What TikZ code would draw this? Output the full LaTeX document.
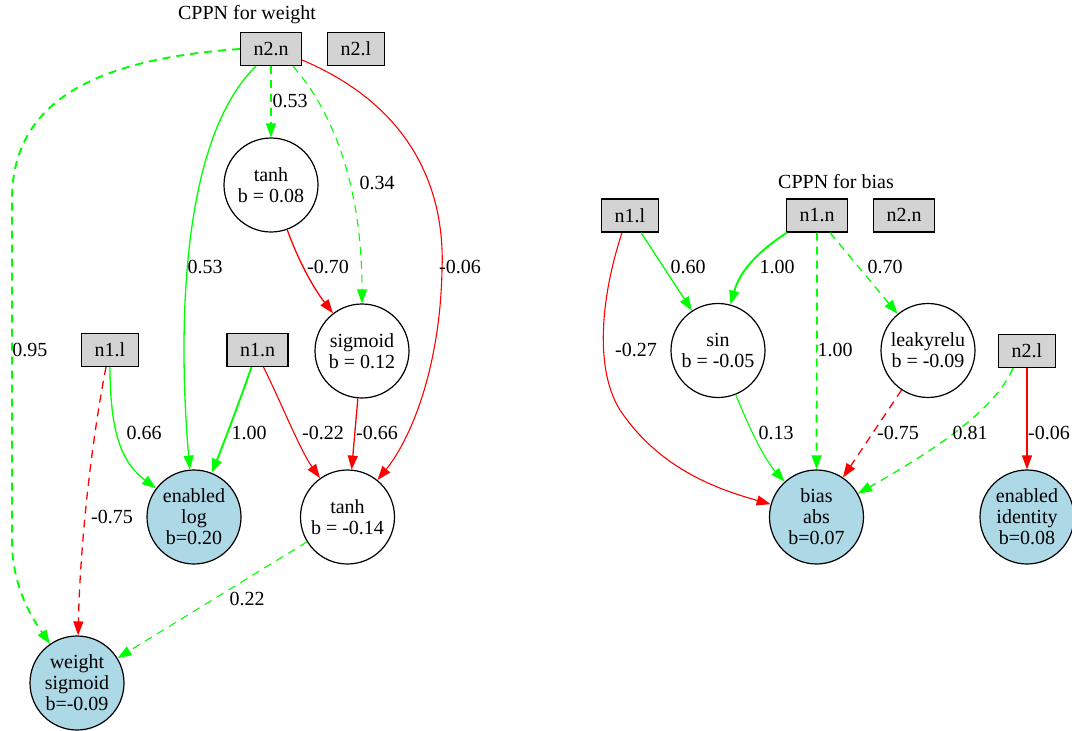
\documentclass[tikz,border=0pt]{standalone}
\usepackage{fontspec}
\setmainfont{Liberation Serif}
\usetikzlibrary{arrows.meta}
\definecolor{wpos}{HTML}{00FF00}
\definecolor{wneg}{HTML}{FF0000}
\definecolor{inbox}{HTML}{D3D3D3}
\definecolor{outfill}{HTML}{ADD8E6}
\begin{document}
\begin{tikzpicture}[x=1pt,y=-1pt,
  font=\fontsize{20}{21}\selectfont,
  inp/.style={draw=black, line width=1.2pt, fill=inbox, rectangle, inner xsep=13pt, inner ysep=0pt, minimum height=33pt},
  hid/.style={draw=black, line width=1.2pt, circle, minimum size=94pt, inner sep=0pt, align=center},
  outn/.style={hid, fill=outfill},
  lbl/.style={inner sep=0pt},
  ttl/.style={inner sep=0pt},
  conn/.style={-{Triangle[length=14pt,width=10pt]}},
  pe/.style={conn, color=wpos},
  ne/.style={conn, color=wneg},
  dsh/.style={dash pattern=on 8pt off 6pt},
  w1/.style={line width=1.1pt},
  w2/.style={line width=1.3pt},
  w3/.style={line width=1.9pt}
]
\useasboundingbox (0,0) rectangle (1072,731);

% ---------- CPPN for weight ----------
\node[ttl] (tw) at (247,15) {CPPN for weight};
\node[inp] (wn2n) at (271,49) {n2.n};
\node[inp] (wn2l) at (356,49) {n2.l};
\node[hid] (wta) at (271,185) {tanh\\b = 0.08};
\node[hid] (wsg) at (362,351) {sigmoid\\b = 0.12};
\node[inp] (wn1l) at (110,350) {n1.l};
\node[inp] (wn1n) at (257.5,350) {n1.n};
\node[outn] (wlog) at (194,517) {enabled\\log\\b=0.20};
\node[hid] (wtb) at (347.5,517) {tanh\\b = -0.14};
\node[outn] (wout) at (77,683) {weight\\sigmoid\\b=-0.09};

\draw[pe,dsh,w3] (wn2n.west) .. controls (80,60) and (12,110) .. (12,200)
  -- (12,540) .. controls (12,585) and (30,615) .. (wout);
\draw[pe,dsh,w2] (wn2n.south) -- (wta);
\draw[pe,w2] ([xshift=-15pt]wn2n.south) .. controls (170,150) and (182,380) .. (wlog);
\draw[pe,dsh,w1] ([xshift=22pt]wn2n.south) .. controls (340,120) and (362,200) .. (wsg);
\draw[ne,w1] ([yshift=-11pt]wn2n.east) .. controls (420,110) and (445,200) .. (442,270)
  .. controls (440,370) and (410,440) .. (wtb);
\draw[ne,w2] (wta) .. controls (300,265) and (315,290) .. (wsg);
\draw[pe,w2] (wn1l.south) .. controls (110,440) and (125,465) .. (wlog);
\draw[ne,dsh,w2] ([xshift=-4pt]wn1l.south) .. controls (90,450) and (80,550) .. (wout);
\draw[pe,w3] ([xshift=-6pt]wn1n.south) .. controls (240,400) and (225,440) .. (wlog);
\draw[ne,w1] ([xshift=6pt]wn1n.south) .. controls (280,400) and (300,450) .. (wtb);
\draw[ne,w2] (wsg) -- (wtb);
\draw[pe,dsh,w1] (wtb) -- (wout);

\node[lbl] (lw1) at (30,350) {0.95};
\node[lbl] (lw2) at (290,101) {0.53};
\node[lbl] (lw3) at (205,267) {0.53};
\node[lbl] (lw4) at (377,183) {0.34};
\node[lbl] (lw5) at (460,267) {-0.06};
\node[lbl] (lw6) at (328,267) {-0.70};
\node[lbl] (lw7) at (144,433) {0.66};
\node[lbl] (lw8) at (112,517) {-0.75};
\node[lbl] (lw9) at (249,433) {1.00};
\node[lbl] (lw10) at (323,433) {-0.22};
\node[lbl] (lw11) at (377,433) {-0.66};
\node[lbl] (lw12) at (247,599) {0.22};

% ---------- CPPN for bias ----------
\node[ttl] (tb) at (836,182) {CPPN for bias};
\node[inp] (bn1l) at (630,215.5) {n1.l};
\node[inp] (bn1n) at (817,215.5) {n1.n};
\node[inp] (bn2n) at (904,215.5) {n2.n};
\node[hid] (bsin) at (718,350.5) {sin\\b = -0.05};
\node[hid] (blr) at (928,350.5) {leakyrelu\\b = -0.09};
\node[inp] (bn2l) at (1027,351) {n2.l};
\node[outn] (bout) at (816.5,517) {bias\\abs\\b=0.07};
\node[outn] (bid) at (1027,517) {enabled\\identity\\b=0.08};

\draw[ne,w1] ([xshift=-8pt]bn1l.south) .. controls (600,300) and (595,370) .. (620,410)
  .. controls (660,470) and (720,490) .. (bout);
\draw[pe,w2] ([xshift=11pt]bn1l.south) -- (bsin);
\draw[pe,w3] ([xshift=-30pt]bn1n.south) .. controls (760,250) and (740,270) .. (bsin);
\draw[pe,dsh,w3] (bn1n.south) -- (bout);
\draw[pe,dsh,w2] ([xshift=13pt]bn1n.south) -- (blr);
\draw[pe,w1] (bsin) .. controls (750,430) and (765,460) .. (bout);
\draw[ne,dsh,w2] (blr) -- (bout);
\draw[pe,dsh,w2] ([xshift=-14pt]bn2l.south) .. controls (995,410) and (935,450) .. (bout);
\draw[ne,w2] (bn2l) -- (bid);

\node[lbl] (lb1) at (688,267) {0.60};
\node[lbl] (lb2) at (777,267) {1.00};
\node[lbl] (lb3) at (885,267) {0.70};
\node[lbl] (lb4) at (636,350) {-0.27};
\node[lbl] (lb5) at (835,350) {1.00};
\node[lbl] (lb6) at (776,433) {0.13};
\node[lbl] (lb7) at (898,433) {-0.75};
\node[lbl] (lb8) at (970,433) {0.81};
\node[lbl] (lb9) at (1049,433) {-0.06};
\end{tikzpicture}
\end{document}
